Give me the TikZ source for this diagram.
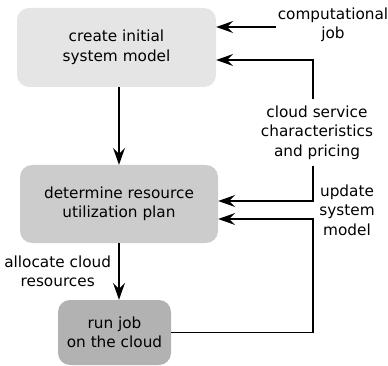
\documentclass[tikz,border=0pt]{standalone}
\usepackage{fontspec}
\setmainfont{DejaVu Sans}
\usetikzlibrary{arrows.meta, positioning, calc}

\begin{document}
\begin{tikzpicture}[x=1pt, y=-1pt,
    font=\fontsize{15.3}{19.5}\selectfont,
    box/.style={rounded corners=12pt, align=center, inner sep=0pt},
    lbl/.style={align=center, inner sep=2pt},
    arr/.style={line width=1.2pt, -{Stealth[length=17pt, width=12pt, inset=6pt]}}]
    \useasboundingbox (0,0) rectangle (388,366);

    % process steps
    \node[box, fill=black!10, minimum width=199pt, minimum height=79pt] (model) at (116.5,47.5) {create initial\\system model};
    \node[box, fill=black!20, minimum width=198pt, minimum height=78pt] (plan) at (119,204) {determine resource\\utilization plan};
    \node[box, fill=black!30, minimum width=113pt, minimum height=65pt] (run) at (114.5,332.5) {run job\\on the cloud};

    % inputs
    \node[lbl] (job) at (333,25) {computational\\job};
    \node[lbl, inner ysep=6pt] (cloud) at (317,132.5) {cloud service\\characteristics\\and pricing};
    \node[lbl] (update) at (347,210) {update\\system\\model};

    % entry points on the box edges
    \coordinate (cj) at ([yshift=20.5pt]model.east);
    \coordinate (cc) at ([yshift=-12.5pt]model.east);
    \coordinate (pc) at ([yshift=3pt]plan.east);
    \coordinate (pu) at ([yshift=-15pt]plan.east);
    \coordinate (ms) at (model.south -| plan);
    \coordinate (rn) at (run.north -| plan);

    % main flow
    \draw[arr] (ms) -- (plan.north);
    \draw[arr] (plan) -- node[left=4pt, align=center] {allocate cloud\\resources} (rn);

    % feedback
    \draw[arr] (job.west |- cj) -- (cj);
    \draw[arr] ([xshift=-4pt]cloud.north) |- (cc);
    \draw[arr] ([xshift=-4pt]cloud.south) |- (pc);
    \draw[arr] (run.east) -| ([xshift=-4pt]cloud.south |- pu) -- (pu);
\end{tikzpicture}
\end{document}
